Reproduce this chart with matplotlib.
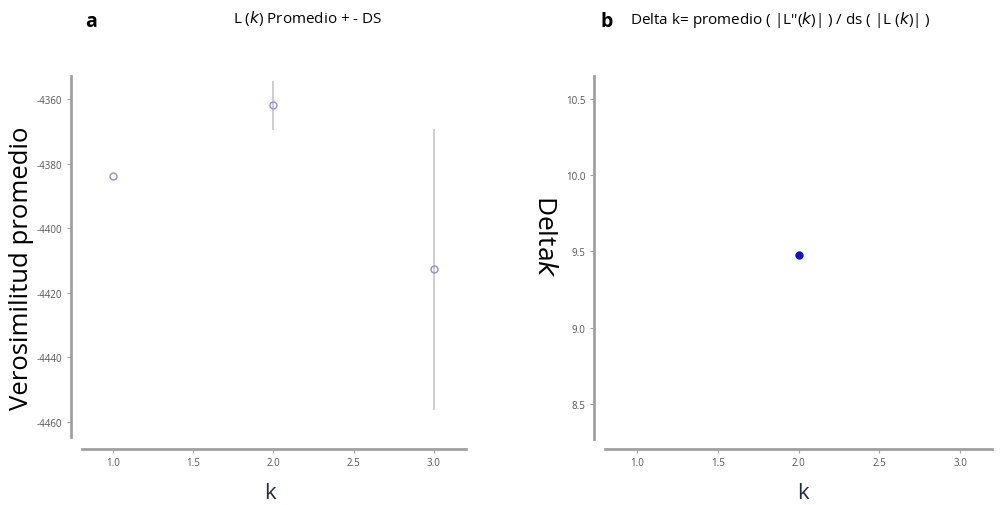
import matplotlib
matplotlib.use('Agg')
import matplotlib.pyplot as plt

# datos
k = [1, 2, 3]
L_mean = [-4384.0, -4362.0, -4412.7]
L_sd = [0.0, 7.7, 43.5]
k_delta = [2]
delta_k = [9.474]

xticks = [1.0, 1.5, 2.0, 2.5, 3.0]
yticks_a = [-4360, -4380, -4400, -4420, -4440, -4460]
yticks_b = [8.5, 9.0, 9.5, 10.0, 10.5]

W, H = 1001, 506
fig = plt.figure(figsize=(W / 100, H / 100), dpi=100)
plt.rcParams['font.family'] = ['Open Sans', 'DejaVu Sans']
plt.rcParams['axes.unicode_minus'] = False

def box(x0, x1, y0, y1):
    return [x0 / W, 1 - y1 / H, (x1 - x0) / W, (y1 - y0) / H]

def style(ax, ybounds):
    for s in ['top', 'right']:
        ax.spines[s].set_visible(False)
    for s in ['left', 'bottom']:
        ax.spines[s].set_color('#a0a0a0')
        ax.spines[s].set_linewidth(2)
    ax.spines['left'].set_position(('outward', 8))
    ax.spines['left'].set_bounds(*ybounds)
    ax.tick_params(colors='#a0a0a0', labelcolor='#555555', labelsize=7,
                   length=3, width=0.8, direction='out', pad=3)
    ax.set_xticks(xticks)
    ax.set_xticklabels(['%.1f' % t for t in xticks])

axa = fig.add_axes(box(82, 466, 77, 450))
axa.errorbar(k, L_mean, yerr=L_sd, fmt='o', mfc='none', mec='#8f8fd8',
             ms=5, mew=1, ecolor='#c8c8d0', elinewidth=1.3, capsize=0)
axa.set_xlim(0.807, 3.2)
axa.set_ylim(-4468.4, -4352.9)
axa.set_yticks(yticks_a)
style(axa, (-4464.6, -4352.9))

axb = fig.add_axes(box(605, 992, 77, 450))
axb.plot(k_delta, delta_k, 'o', color='#1010cc', ms=5)
axb.set_xlim(0.802, 3.198)
axb.set_ylim(8.205, 10.65)
axb.set_yticks(yticks_b)
style(axb, (8.27, 10.65))

# etiquetas de ejes
fig.text(270 / W, 1 - 494 / H, 'k', fontsize=16, color='#1f2a44', ha='center', va='center')
fig.text(803 / W, 1 - 494 / H, 'k', fontsize=16, color='#1f2a44', ha='center', va='center')
fig.text(22 / W, 1 - 268 / H, 'Verosimilitud promedio', fontsize=18.5,
         rotation=90, ha='center', va='center')
fig.text(544 / W, 1 - 236 / H, 'Delta$\\it{k}$', fontsize=19,
         rotation=-90, ha='center', va='center')

fig.text(85 / W, 1 - 22 / H, 'a', fontsize=14, fontweight='bold', ha='left', va='center')
fig.text(600 / W, 1 - 22 / H, 'b', fontsize=14, fontweight='bold', ha='left', va='center')
fig.text(308 / W, 1 - 18 / H, 'L ($\\it{k}$) Promedio + - DS', fontsize=11,
         ha='center', va='center')
fig.text(780 / W, 1 - 20 / H,
         "Delta k= promedio ( |L''($\\it{k}$)| ) / ds ( |L ($\\it{k}$)| )",
         fontsize=11, ha='center', va='center')

fig.savefig('out.png', dpi=100, facecolor='white')
